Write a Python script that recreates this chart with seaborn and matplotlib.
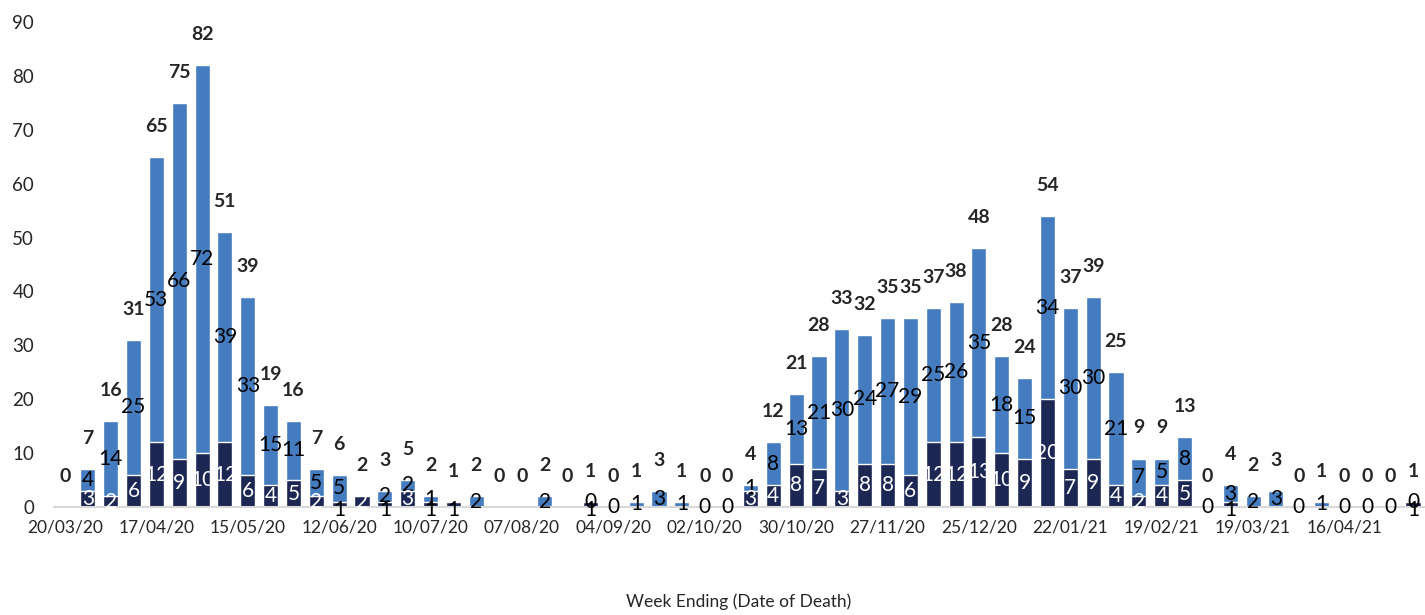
import matplotlib
matplotlib.use("Agg")
import matplotlib.pyplot as plt
import numpy as np
import pandas as pd
import seaborn as sns

# weekly categories (week ending), 60 weeks from 20/03/20
weeks = pd.date_range("2020-03-20", periods=60, freq="7D")

# dark (bottom) series
dark = [0, 3, 2, 6, 12, 9, 10, 12, 6, 4,
        5, 2, 1, 2, 1, 3, 1, 1, 0, 0,
        0, 0, 0, 1, 0, 0, 0, 0, 0, 0,
        3, 4, 8, 7, 3, 8, 8, 6, 12, 12,
        13, 10, 9, 20, 7, 9, 4, 2, 4, 5,
        0, 1, 0, 0, 0, 0, 0, 0, 0, 1]

# light (top) series, nan = no value / no label
light = [np.nan, 4, 14, 25, 53, 66, 72, 39, 33, 15,
         11, 5, 5, np.nan, 2, 2, 1, np.nan, 2, np.nan,
         np.nan, 2, np.nan, 0, 0, 1, 3, 1, 0, 0,
         1, 8, 13, 21, 30, 24, 27, 29, 25, 26,
         35, 18, 15, 34, 30, 30, 21, 7, 5, 8,
         0, 3, 2, 3, 0, 1, 0, 0, 0, 0]

DARK = "#1c2754"
LIGHT = "#457cbf"

df = pd.DataFrame({"week": weeks.strftime("%d/%m/%y"),
                   "dark": dark, "light": light})
df["light0"] = df["light"].fillna(0)
df["total"] = df["dark"] + df["light0"]
df["pos"] = np.arange(len(df))

sns.set_style("white")
plt.rcParams["font.family"] = ["Lato", "DejaVu Sans"]

fig = plt.figure(figsize=(14.25, 6.15), dpi=100)
ax = fig.add_axes([0.0376, 0.1756, 0.962, 0.7886])

# stacked bars: total in light, dark drawn over the base
sns.barplot(data=df, x="pos", y="total", color=LIGHT, width=0.66,
            saturation=1, ax=ax, native_scale=True)
sns.barplot(data=df, x="pos", y="dark", color=DARK, width=0.66,
            saturation=1, ax=ax, native_scale=True)

fs = 15
for i, row in df.iterrows():
    # total above bar
    ax.annotate(f"{int(row['total'])}", (row["pos"], row["total"]),
                xytext=(0, 22), textcoords="offset points",
                ha="center", va="center", fontsize=14, fontweight="bold")
    if i == 0:
        continue
    if not np.isnan(row["light"]):
        ax.text(row["pos"], row["dark"] + row["light"] / 2, f"{int(row['light'])}",
                ha="center", va="center", fontsize=fs, color="black")
    if row["dark"] == 1:
        # too small to hold its label: let it hang at the baseline
        ax.annotate("1", (row["pos"], 0), xytext=(0, -2), textcoords="offset points",
                    ha="center", va="center", fontsize=fs, color="black")
    elif row["dark"] > 1:
        ax.text(row["pos"], row["dark"] / 2, f"{int(row['dark'])}",
                ha="center", va="center", fontsize=fs, color="white")

ax.set_xlim(-0.5, 59.5)
ax.set_ylim(0, 90)
ax.set_yticks(range(0, 91, 10))
ax.set_xticks(df["pos"][::4])
ax.set_xticklabels(df["week"][::4])
ax.tick_params(axis="y", labelsize=13.5, pad=14, length=0)
ax.tick_params(axis="x", labelsize=12.5, pad=9, length=0)

for s in ["top", "right", "left"]:
    ax.spines[s].set_visible(False)
ax.spines["bottom"].set_color("#d9d9d9")
ax.spines["bottom"].set_linewidth(1.5)

ax.set_ylabel("")
ax.set_xlabel("Week Ending (Date of Death)", fontsize=12.5, labelpad=42)

fig.savefig("out.png", dpi=100)
